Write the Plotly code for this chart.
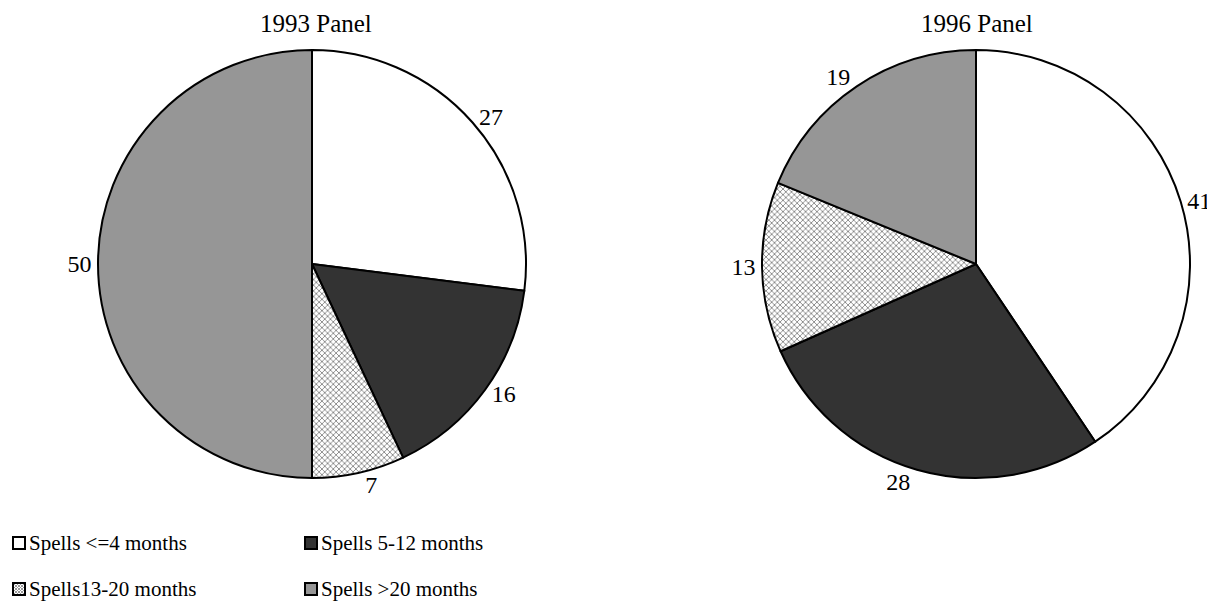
import plotly.graph_objects as go

# ---- data ----
categories = ["Spells <=4 months", "Spells 5-12 months", "Spells13-20 months", "Spells >20 months"]
panel_1993 = [27, 16, 7, 50]
panel_1996 = [41, 28, 13, 19]
panel_titles = ["1993 Panel", "1996 Panel"]

# ---- style ----
slice_colors = ["#ffffff", "#333333", "#ffffff", "#969696"]
slice_patterns = ["", "", "x", ""]
FONT = "Liberation Serif, Times New Roman, serif"
OFF = 8                      # page body margin
W, H = 1215 - OFF, 602 - OFF  # figure size so that it fits the window exactly
R = 214                       # pie radius (px)


def X(px):
    return (px - OFF) / W


def Y(py):
    return 1 - (py - OFF) / H


def dom(cx, cy, r):
    return dict(x=[X(cx - r), X(cx + r)], y=[Y(cy + r), Y(cy - r)])


def pie(values, cx, cy):
    return go.Pie(
        labels=categories,
        values=values,
        sort=False,
        direction="clockwise",
        rotation=0,
        domain=dom(cx, cy, R),
        textinfo="value",
        textposition="outside",
        textfont=dict(family=FONT, size=24, color="black"),
        marker=dict(
            colors=slice_colors,
            line=dict(color="black", width=2),
            pattern=dict(shape=slice_patterns, fgcolor="#858585", bgcolor="white",
                         size=4, solidity=0.4),
        ),
        showlegend=False,
        hoverinfo="label+value",
    )


fig = go.Figure()
fig.add_trace(pie(panel_1993, 312, 264))
fig.add_trace(pie(panel_1996, 976, 264))

annotations = [
    dict(text=panel_titles[0], x=X(316), y=Y(24), xref="paper", yref="paper",
         xanchor="center", yanchor="middle", showarrow=False,
         font=dict(family=FONT, size=25, color="black")),
    dict(text=panel_titles[1], x=X(977), y=Y(24), xref="paper", yref="paper",
         xanchor="center", yanchor="middle", showarrow=False,
         font=dict(family=FONT, size=25, color="black")),
]

# ---- manual legend (2 x 2 grid) ----
legend_pos = [(13, 543), (305, 543), (13, 589), (305, 589)]
shapes = []


def rect(x0, x1, y0, y1, fill, lw=0, lc="black"):
    return dict(type="rect", xref="paper", yref="paper",
                x0=X(x0), x1=X(x1), y0=Y(y1), y1=Y(y0),
                fillcolor=fill, line=dict(color=lc, width=lw))


for i, (lx, ly) in enumerate(legend_pos):
    if slice_patterns[i] == "x":
        shapes.append(rect(lx, lx + 12, ly - 6, ly + 6, "white"))
        path = ""
        for k in range(-12, 13, 3):
            path += f"M{X(lx + k)},{Y(ly + 6)}L{X(lx + k + 12)},{Y(ly - 6)}"
            path += f"M{X(lx + k)},{Y(ly - 6)}L{X(lx + k + 12)},{Y(ly + 6)}"
        shapes.append(dict(type="path", xref="paper", yref="paper", path=path,
                           line=dict(color="#9a9a9a", width=1)))
        # mask the hatch overflow outside the swatch
        shapes.append(rect(lx - 14, lx, ly - 8, ly + 8, "white"))
        shapes.append(rect(lx + 12, lx + 26, ly - 8, ly + 8, "white"))
        shapes.append(rect(lx - 14, lx + 26, ly - 20, ly - 6, "white"))
        shapes.append(rect(lx - 14, lx + 26, ly + 6, ly + 20, "white"))
        shapes.append(rect(lx, lx + 12, ly - 6, ly + 6, "rgba(0,0,0,0)", 2))
    else:
        shapes.append(rect(lx, lx + 12, ly - 6, ly + 6, slice_colors[i], 2))
    annotations.append(dict(text=categories[i], x=X(lx + 14), y=Y(ly),
                            xref="paper", yref="paper", xanchor="left", yanchor="middle",
                            showarrow=False, font=dict(family=FONT, size=21, color="black")))

fig.update_layout(
    width=W, height=H,
    margin=dict(l=0, r=0, t=0, b=0),
    paper_bgcolor="white",
    plot_bgcolor="white",
    annotations=annotations,
    shapes=shapes,
    showlegend=False,
)

fig.write_html("out.html")
